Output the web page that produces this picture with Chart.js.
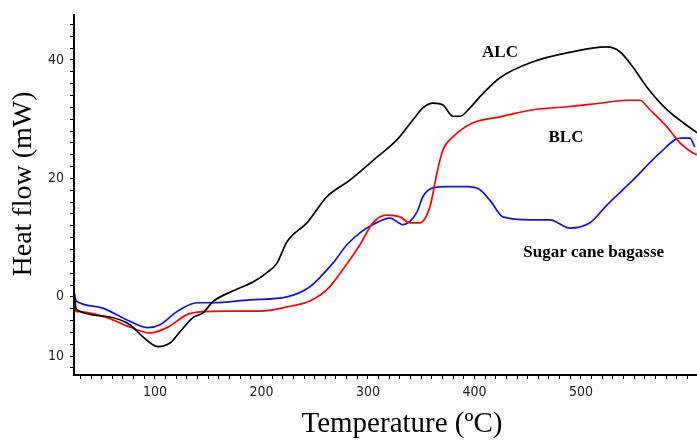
<!DOCTYPE html>
<html><head><meta charset="utf-8">
<script src="https://cdn.jsdelivr.net/npm/chart.js@4.4.1/dist/chart.umd.min.js"></script>
<style>html,body{margin:0;padding:0;background:#fff}canvas{display:block}</style>
</head><body>
<canvas id="c" width="697" height="441"></canvas>
<script>
// ---- Data ----
const alcTemp = [24, 25.8, 26.8, 57.7, 76.5, 88.7, 102.8, 114.1, 123.5, 135.7, 145.1, 154.5, 173.2, 192, 205.2, 214.6, 224, 242.7, 261.5, 283.1, 308.5, 327.2, 342.3, 351.6, 361, 370.4, 379.8, 386.4, 395.8, 405.2, 424, 455, 486.9, 524.4, 536.6, 548.8, 562, 580.8, 609];
const alcHeat = [0.7, -1.9, -2.2, -3.4, -4.7, -6.75, -8.4, -7.8, -5.9, -3.5, -2.7, -0.8, 1.0, 2.5, 4.1, 5.7, 9.3, 12.5, 16.9, 19.7, 23.6, 26.5, 29.9, 31.9, 32.7, 32.4, 30.5, 30.5, 31.9, 33.8, 37.0, 39.7, 41.2, 42.2, 41.4, 38.8, 35.4, 31.6, 27.7];

const blcTemp = [24, 25.8, 26.8, 55, 76.5, 95.3, 111.3, 130.1, 145.1, 167.6, 198.6, 224, 245.5, 261.5, 276.5, 292.5, 304.7, 317.8, 330, 339.4, 348.8, 358.2, 364.8, 370.4, 379.8, 398.6, 424, 455, 486.9, 517.8, 543.2, 555.4, 564.8, 580.8, 593, 605.2, 609];
const blcHeat = [0, -2.5, -2.5, -3.5, -5.1, -6.1, -5.2, -3.0, -2.5, -2.4, -2.4, -1.7, -0.7, 1.2, 4.6, 8.8, 12.5, 13.8, 13.5, 12.5, 12.5, 15.2, 20.9, 24.8, 27.0, 29.4, 30.4, 31.6, 32.1, 32.7, 33.2, 33.2, 31.6, 28.7, 26.0, 24.3, 24.0];

const scbTemp = [24, 25.8, 26.8, 51.2, 73.7, 93.4, 104.7, 120.7, 139.4, 154.5, 189.2, 224, 245.5, 267.1, 280.3, 292.5, 304.7, 320.7, 332.9, 346, 351.6, 361, 374.2, 393, 405.2, 415, 426.8, 452.1, 470.9, 489.7, 508.5, 524.4, 548.8, 574.2, 593, 602.3, 607];
const scbHeat = [0.9, -0.6, -0.8, -1.9, -3.9, -5.2, -4.7, -2.5, -1.0, -1.0, -0.5, 0, 1.7, 5.7, 8.8, 10.8, 12.2, 13.3, 12.2, 14.3, 16.9, 18.4, 18.6, 18.6, 18.1, 16.2, 13.5, 13.0, 13.0, 11.6, 12.5, 15.5, 19.7, 24.3, 26.8, 26.8, 25.3];

const seriesNames = ['ALC', 'BLC', 'Sugar cane bagasse'];
const seriesColors = ['#000000', '#ff0000', '#1414d8'];

// label anchor points (temperature, heat flow) for the in-plot series names
const labelTemp = [424, 486, 512];
const labelHeat = [40.5, 26.2, 6.75];

const xTickValues = [100, 200, 300, 400, 500];
const xTickLabels = ['100', '200', '300', '400', '500'];
const yTickValues = [40, 20, 0, -10];
const yTickLabels = ['40', '20', '0', '10'];

const xTitle = 'Temperature (\u00baC)';
const yTitle = 'Heat flow (mW)';

// ---- Build ----
function pts(t, h) { return t.map((v, i) => ({ x: v, y: h[i] })); }
const seriesData = [pts(alcTemp, alcHeat), pts(blcTemp, blcHeat), pts(scbTemp, scbHeat)];

const datasets = seriesData.map((d, i) => ({
  label: seriesNames[i],
  data: d,
  borderColor: seriesColors[i],
  backgroundColor: seriesColors[i],
  borderWidth: 1.7,
  pointRadius: 0,
  cubicInterpolationMode: 'monotone',
  fill: false
}));

const tickFont = { family: "'Liberation Sans Narrow', 'DejaVu Sans Condensed', 'Liberation Sans', sans-serif", size: 14 };

const decor = {
  id: 'decor',
  afterDraw(chart) {
    const ctx = chart.ctx;
    const xs = chart.scales.x, ys = chart.scales.y;
    ctx.save();
    ctx.fillStyle = '#000';
    ctx.font = "bold 17px 'Liberation Serif', 'Times New Roman', serif";
    ctx.textAlign = 'center';
    ctx.textBaseline = 'alphabetic';
    seriesNames.forEach((n, i) => {
      ctx.fillText(n, xs.getPixelForValue(labelTemp[i]), ys.getPixelForValue(labelHeat[i]));
    });
    ctx.font = "29px 'Liberation Serif', 'Times New Roman', serif";
    ctx.textAlign = 'center';
    ctx.textBaseline = 'middle';
    ctx.fillText(xTitle, 402, 424);
    ctx.save();
    ctx.translate(24, 184);
    ctx.rotate(-Math.PI / 2);
    ctx.font = "28px 'Liberation Serif', 'Times New Roman', serif";
    ctx.fillText(yTitle, 0, 0);
    ctx.restore();
    ctx.restore();
  }
};

new Chart(document.getElementById('c'), {
  type: 'line',
  data: { datasets },
  options: {
    responsive: false,
    animation: false,
    layout: { padding: { top: 15, right: 0, left: 0, bottom: 0 } },
    plugins: { legend: { display: false }, tooltip: { enabled: false } },
    scales: {
      x: {
        type: 'linear',
        min: 24, max: 609,
        afterBuildTicks(scale) {
          const t = [];
          for (let v = 30; v <= 600; v += 10) t.push({ value: v });
          scale.ticks = t;
        },
        afterFit(scale) { scale.height = 66; },
        ticks: {
          autoSkip: false, maxRotation: 0, padding: 5, color: '#222', font: tickFont,
          callback(v) { const i = xTickValues.indexOf(v); return i >= 0 ? xTickLabels[i] : ''; }
        },
        grid: { drawOnChartArea: false, drawTicks: true, tickLength: 4, color: '#000', lineWidth: 1 },
        border: { display: true, color: '#000', width: 2 }
      },
      y: {
        type: 'linear',
        min: -13.2, max: 47.6,
        afterBuildTicks(scale) {
          const t = [];
          for (let v = -12; v <= 46; v += 2) t.push({ value: v });
          scale.ticks = t;
        },
        afterFit(scale) { scale.width = 74; },
        ticks: {
          autoSkip: false, padding: 6, color: '#222', font: tickFont,
          callback(v) { const i = yTickValues.indexOf(v); return i >= 0 ? yTickLabels[i] : ''; }
        },
        grid: { drawOnChartArea: false, drawTicks: true, tickLength: 4, color: '#000', lineWidth: 1 },
        border: { display: true, color: '#000', width: 2 }
      }
    }
  },
  plugins: [decor]
});
</script>
</body></html>
